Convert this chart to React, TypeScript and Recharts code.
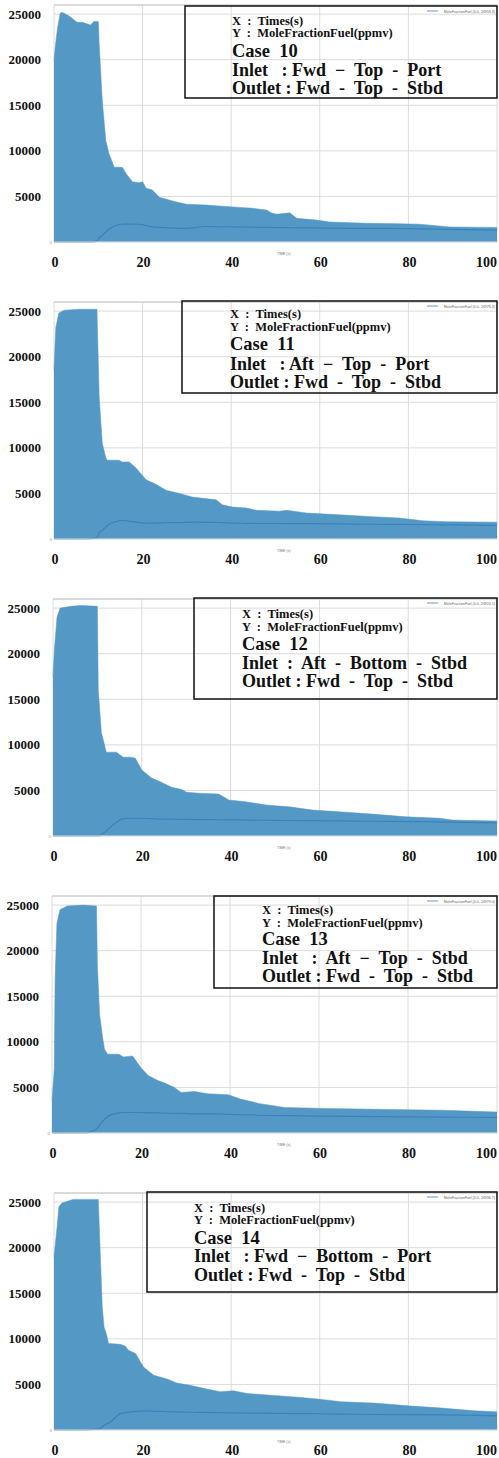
import React from 'react';
import {
  ComposedChart,
  Area,
  Line,
  XAxis,
  YAxis,
  CartesianGrid,
  ReferenceLine,
} from 'recharts';

const case10Time = [0, 0.3, 0.8, 1.4, 1.8, 3.4, 5.2, 6.4, 8.3, 9, 10, 10.2, 10.9, 11.7, 12.4, 13.6, 15.4, 16.3, 17.7, 19.2, 20, 20.8, 22.2, 23.8, 26, 27.6, 29.9, 34.4, 40.3, 44.8, 48, 49, 50.2, 53.2, 54.8, 59.3, 62.2, 70.6, 78, 82.6, 89.4, 100];
const case10Upper = [19900, 21500, 23500, 25100, 25200, 24800, 24100, 24100, 23800, 24200, 24200, 21700, 15500, 11100, 9700, 8200, 8200, 7500, 6600, 6500, 6600, 5900, 5700, 4900, 4600, 4400, 4150, 4050, 3850, 3700, 3500, 3200, 3050, 3200, 2600, 2400, 2200, 2050, 2000, 1950, 1650, 1600];
const case10Lower = [0, 0, 0, 0, 0, 0, 0, 0, 0, 50, 250, 430, 700, 1100, 1400, 1750, 1950, 1960, 1970, 1950, 1900, 1800, 1650, 1600, 1550, 1520, 1500, 1700, 1650, 1620, 1600, 1600, 1580, 1570, 1560, 1540, 1520, 1500, 1480, 1450, 1380, 1300];

const case11Time = [0, 0.4, 1.1, 2.3, 5.7, 9.7, 10.2, 10.9, 11.7, 12, 14.7, 15.4, 17, 18.5, 20.8, 23, 25.3, 28.3, 31.2, 36.6, 38, 40.3, 43.4, 45.7, 50.9, 52.5, 57, 64.5, 71.9, 78, 83.3, 88.6, 100];
const case11Upper = [18500, 23200, 24800, 25100, 25200, 25200, 15600, 10500, 8900, 8650, 8650, 8450, 8450, 7800, 6500, 6000, 5350, 5000, 4600, 4300, 3750, 3500, 3400, 3150, 3050, 3150, 2850, 2650, 2450, 2300, 2000, 1900, 1850];
const case11Lower = [0, 0, 0, 0, 0, 100, 650, 950, 1300, 1450, 2000, 2050, 1950, 1850, 1750, 1750, 1780, 1800, 1850, 1820, 1800, 1750, 1720, 1700, 1700, 1690, 1680, 1650, 1620, 1600, 1580, 1550, 1500];

const case12Time = [0, 0.3, 0.9, 1.6, 4.1, 6.4, 10, 10.2, 10.9, 11.5, 12, 14.3, 15.8, 17.4, 18.5, 20, 22.2, 24.4, 26.7, 29, 30.1, 32.8, 37.3, 39.6, 43.4, 48, 53.2, 58.4, 64.5, 71.9, 79.6, 87.1, 90, 100];
const case12Upper = [17400, 20400, 24000, 25000, 25200, 25300, 25200, 16000, 11300, 10200, 9200, 9200, 8650, 8650, 8550, 7250, 6350, 5900, 5350, 5100, 4800, 4700, 4600, 3950, 3750, 3400, 3200, 2850, 2650, 2400, 2100, 1950, 1750, 1650];
const case12Lower = [0, 0, 0, 0, 0, 0, 0, 0, 200, 350, 550, 1500, 1900, 1950, 1950, 1950, 1900, 1850, 1850, 1830, 1820, 1800, 1780, 1770, 1750, 1730, 1700, 1680, 1650, 1620, 1580, 1550, 1520, 1450];

const case13Time = [0, 0.5, 0.7, 1.1, 1.8, 3.4, 7, 10, 10.2, 10.7, 11.4, 11.8, 12.5, 15, 16.1, 18.1, 20, 21.6, 23.8, 25.2, 27.5, 29, 32, 35, 39.6, 42.5, 44.8, 46.4, 52.3, 61.3, 72.6, 87.8, 100];
const case13Upper = [3500, 7000, 17000, 23000, 24500, 24900, 25000, 24900, 18400, 13000, 10400, 9200, 8650, 8650, 8350, 8450, 7150, 6300, 5750, 5500, 5000, 4450, 4550, 4300, 4200, 3700, 3450, 3250, 2800, 2700, 2600, 2500, 2300];
const case13Lower = [0, 0, 0, 0, 0, 0, 0, 450, 550, 900, 1300, 1500, 1800, 2200, 2250, 2250, 2250, 2200, 2200, 2180, 2150, 2150, 2100, 2100, 2050, 2000, 2000, 1950, 1900, 1850, 1800, 1750, 1700];

const case14Time = [0, 0.7, 1.1, 1.8, 4.3, 10, 10.5, 10.9, 11.3, 11.8, 12.3, 15, 16.1, 16.8, 18.4, 20.2, 22.5, 25.5, 27.7, 30.7, 34.5, 37.5, 40.5, 43.6, 46.6, 55, 59.5, 64.8, 72.3, 80, 87.5, 95, 100];
const case14Upper = [19000, 22300, 24500, 24900, 25300, 25300, 18600, 13500, 11300, 10600, 9500, 9400, 9200, 8750, 8400, 6900, 6000, 5600, 5150, 4900, 4500, 4200, 4300, 4000, 3900, 3600, 3400, 3100, 2950, 2650, 2400, 2100, 2000];
const case14Lower = [0, 0, 0, 0, 0, 100, 200, 350, 500, 650, 750, 1800, 1900, 1950, 2050, 2100, 2080, 2000, 1980, 1950, 1930, 1900, 1880, 1850, 1850, 1800, 1780, 1750, 1700, 1680, 1650, 1600, 1550];

const yTicks = [0, 5000, 10000, 15000, 20000, 25000];
const xTicks = [0, 20, 40, 60, 80, 100];

const caseNames = ['Case  10', 'Case  11', 'Case  12', 'Case  13', 'Case  14'];
const inletLabels = [
  'Inlet   : Fwd  \u2212  Top  -  Port',
  'Inlet   : Aft  \u2212  Top  -  Port',
  'Inlet  :  Aft  -  Bottom  -  Stbd',
  'Inlet   :  Aft  \u2212  Top  -  Stbd',
  'Inlet   : Fwd  \u2212  Bottom  -  Port',
];
const outletLabel = 'Outlet : Fwd  -  Top  -  Stbd';
const legendLabels = [
  'MoleFractionFuel (0.0, 24958.3)',
  'MoleFractionFuel (0.0, 24978.3)',
  'MoleFractionFuel (0.0, 24924.1)',
  'MoleFractionFuel (0.0, 24979.0)',
  'MoleFractionFuel (0.0, 24936.7)',
];

const FILL = '#5499c6';
const LINE = '#3a82bb';
const GRID = '#dcdcdc';
const SERIF = "'Liberation Serif', 'Times New Roman', serif";
const PANEL_H = 297;

const toRows = (t: number[], up: number[], lo: number[]) =>
  t.map((v, i) => ({ t: v, upper: up[i], lower: lo[i] }));

const panels = [
  { rows: toRows(case10Time, case10Upper, case10Lower), plotLeft: 54, box: [185, 6, 98], textX: 232, lines: [25, 37, 57, 76, 94] },
  { rows: toRows(case11Time, case11Upper, case11Lower), plotLeft: 54, box: [182, 4, 96], textX: 230, lines: [21, 34, 53, 73, 91] },
  { rows: toRows(case12Time, case12Upper, case12Lower), plotLeft: 53, box: [194, 4, 105], textX: 242, lines: [24, 37, 56, 75, 93] },
  { rows: toRows(case13Time, case13Upper, case13Lower), plotLeft: 52, box: [214, 5, 97], textX: 262, lines: [23, 36, 54, 73, 91] },
  { rows: toRows(case14Time, case14Upper, case14Lower), plotLeft: 54, box: [147, 4, 104], textX: 194, lines: [24, 36, 56, 74, 93] },
];

const pre = { whiteSpace: 'pre' as const };

function YTick(props: any) {
  const { y, payload, plotLeft } = props;
  if (payload.value === 0) {
    return (
      <text x={plotLeft - 2} y={y + 2} fontSize={5} fill="#999" textAnchor="end" fontFamily={SERIF}>
        0
      </text>
    );
  }
  return (
    <text x={plotLeft - 13} y={y + 4.5} fontSize={13} fontWeight={700} fill="#111" textAnchor="end" fontFamily={SERIF}>
      {payload.value}
    </text>
  );
}

function XTick(props: any) {
  const { x, payload } = props;
  const last = payload.value === 100;
  return (
    <text x={last ? 497 : x + 1} y={267} fontSize={14} fontWeight={700} fill="#111" textAnchor={last ? 'end' : 'middle'} fontFamily={SERIF}>
      {payload.value}
    </text>
  );
}

function Panel({ idx }: { idx: number }) {
  const p = panels[idx];
  const [bx, by, bb] = p.box;
  return (
    <div style={{ position: 'absolute', left: 0, top: idx * PANEL_H, width: 499, height: PANEL_H }}>
      <ComposedChart width={499} height={PANEL_H} data={p.rows} margin={{ top: 5, right: 2, left: 0, bottom: 25 }}>
        <CartesianGrid stroke={GRID} strokeWidth={1} />
        <XAxis
          type="number"
          dataKey="t"
          domain={[0, 100]}
          ticks={xTicks}
          height={30}
          tickLine={false}
          axisLine={{ stroke: '#e2e2e2' }}
          tick={<XTick />}
          interval={0}
        />
        <YAxis
          type="number"
          domain={[0, 26000]}
          ticks={yTicks}
          width={p.plotLeft}
          tickLine={false}
          axisLine={false}
          tick={<YTick plotLeft={p.plotLeft} />}
          interval={0}
        />
        <ReferenceLine y={26000} stroke="#c8c8c8" />
        <Area
          type="linear"
          dataKey="upper"
          fill={FILL}
          fillOpacity={1}
          stroke={FILL}
          strokeWidth={0.5}
          isAnimationActive={false}
        />
        <Line
          type="monotone"
          dataKey="lower"
          stroke={LINE}
          strokeWidth={1.2}
          dot={false}
          isAnimationActive={false}
        />
      </ComposedChart>
      <svg width={499} height={PANEL_H} style={{ position: 'absolute', left: 0, top: 0, pointerEvents: 'none' }}>
        <text x={277} y={255} fontSize={3.5} fill="#777" fontFamily="Arial, sans-serif">TIME (s)</text>
        <rect x={bx} y={by} width={497 - bx} height={bb - by} fill="none" stroke="#111" strokeWidth={1.5} />
        <line x1={427} x2={438} y1={by + 5} y2={by + 5} stroke={LINE} strokeWidth={0.8} />
        <text x={495} y={by + 6.5} fontSize={3.6} fill="#666" textAnchor="end" fontFamily="Arial, sans-serif">
          {legendLabels[idx]}
        </text>
        <g fontFamily={SERIF} fontWeight={700} fill="#111">
          <text xmlSpace="preserve" style={pre} x={p.textX} y={p.lines[0]} fontSize={12.5}>{'X  :  Times(s)'}</text>
          <text xmlSpace="preserve" style={pre} x={p.textX} y={p.lines[1]} fontSize={12.5}>{'Y  :  MoleFractionFuel(ppmv)'}</text>
          <text xmlSpace="preserve" style={pre} x={p.textX} y={p.lines[2]} fontSize={18.5}>{caseNames[idx]}</text>
          <text xmlSpace="preserve" style={pre} x={p.textX} y={p.lines[3]} fontSize={18}>{inletLabels[idx]}</text>
          <text xmlSpace="preserve" style={pre} x={p.textX} y={p.lines[4]} fontSize={18}>{outletLabel}</text>
        </g>
      </svg>
    </div>
  );
}

export default function App() {
  return (
    <div style={{ position: 'absolute', left: 0, top: 0, width: 499, height: 1458, overflow: 'hidden', background: '#fff' }}>
      {panels.map((_, i) => (
        <Panel key={i} idx={i} />
      ))}
    </div>
  );
}
